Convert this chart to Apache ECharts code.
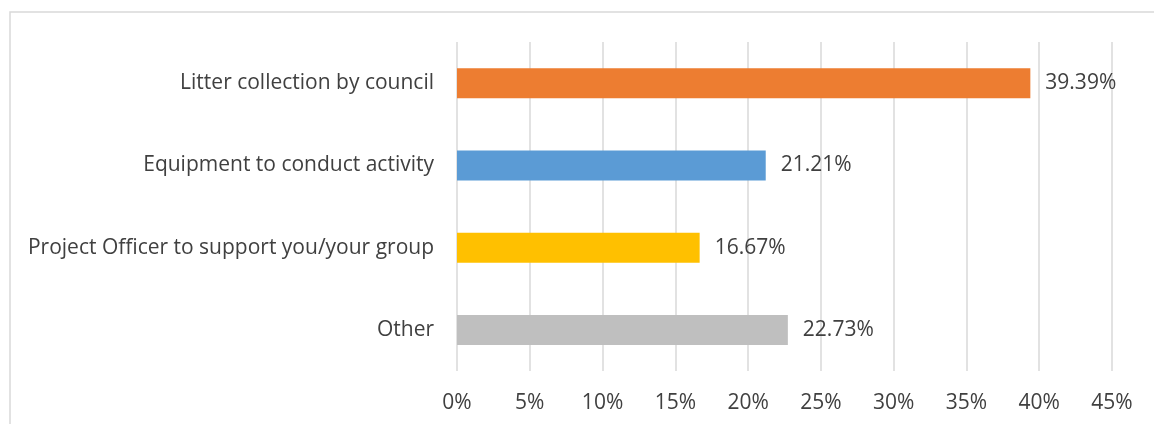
<!DOCTYPE html>
<html>
<head>
<meta charset="utf-8">
<script src="https://cdn.jsdelivr.net/npm/echarts@6/dist/echarts.min.js"></script>
<style>
html,body{margin:0;padding:0;background:#fff;}
#chart{width:1154px;height:424px;}
</style>
</head>
<body>
<div id="chart"></div>
<script>
const categories = [
  "Litter collection by council",
  "Equipment to conduct activity",
  "Project Officer to support you/your group",
  "Other"
];
const values = [39.39, 21.21, 16.67, 22.73];
const barColors = ["#ED7D31", "#5B9BD5", "#FFC000", "#BFBFBF"];
const tickMin = 0, tickMax = 45, tickStep = 5;

const chart = echarts.init(document.getElementById('chart'));
const FONT = "'Open Sans', sans-serif";
chart.setOption({
  animation: false,
  backgroundColor: '#fff',
  textStyle: { fontFamily: FONT },
  graphic: [{
    type: 'rect',
    shape: { x: 10, y: 12, width: 1300, height: 600 },
    style: { fill: 'none', stroke: '#D9D9D9', lineWidth: 1.5 },
    silent: true
  }],
  grid: { left: 457, right: 42, top: 42, bottom: 53, containLabel: false },
  xAxis: {
    type: 'value',
    min: tickMin, max: tickMax, interval: tickStep,
    axisLine: { show: false },
    axisTick: { show: false },
    splitLine: { show: true, lineStyle: { color: '#D9D9D9', width: 1.5 } },
    axisLabel: {
      formatter: '{value}%', color: '#404040', fontSize: 21, fontFamily: FONT, margin: 22
    }
  },
  yAxis: {
    type: 'category',
    inverse: true,
    data: categories,
    axisLine: { show: false },
    axisTick: { show: false },
    axisLabel: { color: '#404040', fontSize: 21, fontFamily: FONT, margin: 23 }
  },
  series: [{
    type: 'bar',
    barWidth: 30,
    data: values.map((v, i) => ({ value: v, itemStyle: { color: barColors[i] } })),
    label: {
      show: true, position: 'right', distance: 15,
      color: '#404040', fontSize: 21, fontFamily: FONT,
      formatter: p => p.value.toFixed(2) + '%'
    }
  }]
});
</script>
</body>
</html>
